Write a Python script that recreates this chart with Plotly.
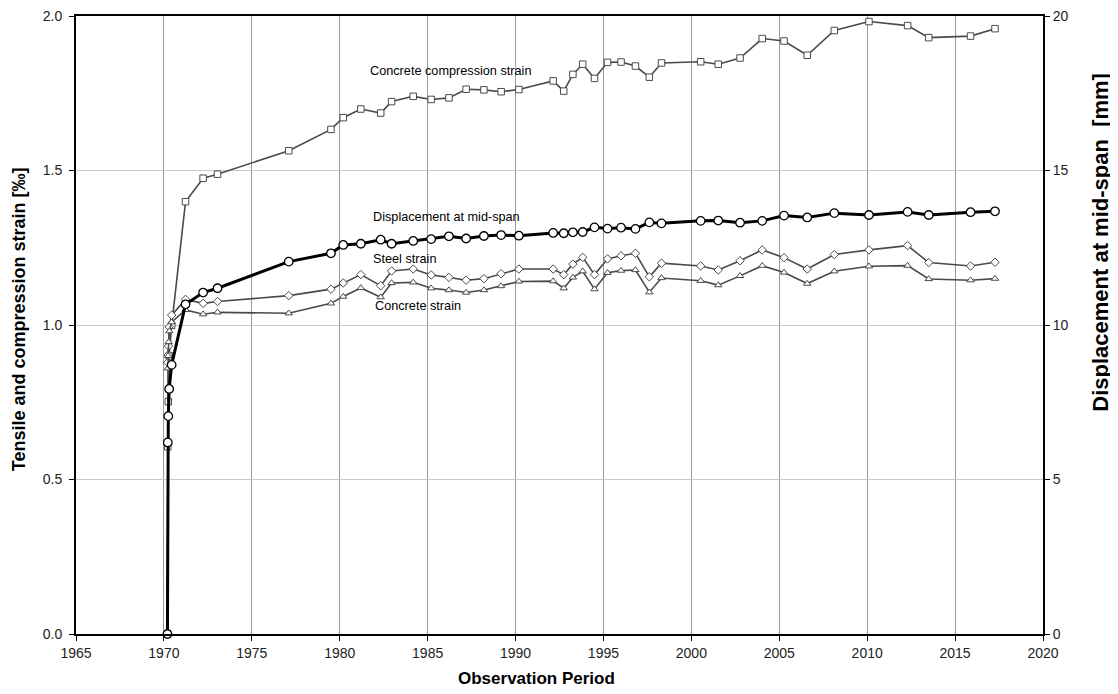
import plotly.graph_objects as go

# ---- data ----
years = [1971.23, 1972.23, 1973.05, 1977.10, 1979.50, 1980.20, 1981.20, 1982.33, 1982.95,
         1984.18, 1985.20, 1986.21, 1987.19, 1988.20, 1989.18, 1990.19, 1992.14, 1992.74,
         1993.26, 1993.82, 1994.49, 1995.23, 1996.00, 1996.82, 1997.61, 1998.30, 2000.53,
         2001.53, 2002.77, 2004.03, 2005.27, 2006.59, 2008.13, 2010.10, 2012.30, 2013.50,
         2015.88, 2017.27]

compr_early_x = [1970.20, 1970.22, 1970.25, 1970.30, 1970.44]
compr_early_y = [0.0, 0.606, 0.752, 0.900, 0.999]
compr_strain = [1.399, 1.475, 1.488, 1.564, 1.633, 1.671, 1.699, 1.686, 1.723,
                1.740, 1.730, 1.735, 1.763, 1.761, 1.755, 1.762, 1.790, 1.757,
                1.811, 1.844, 1.798, 1.850, 1.851, 1.838, 1.802, 1.848, 1.852,
                1.844, 1.864, 1.927, 1.919, 1.873, 1.953, 1.982, 1.969, 1.930,
                1.935, 1.959]

steel_early_x = [1970.20, 1970.22, 1970.24, 1970.26, 1970.30, 1970.44]
steel_early_y = [0.0, 0.879, 0.903, 0.932, 0.994, 1.032]
steel_strain = [1.083, 1.070, 1.076, 1.095, 1.116, 1.136, 1.163, 1.127, 1.175,
                1.181, 1.162, 1.154, 1.145, 1.150, 1.166, 1.181, 1.181, 1.163,
                1.197, 1.219, 1.163, 1.214, 1.224, 1.232, 1.156, 1.200, 1.191,
                1.178, 1.208, 1.243, 1.218, 1.181, 1.228, 1.243, 1.257, 1.202,
                1.191, 1.203]

conc_early_x = [1970.20, 1970.22, 1970.24, 1970.27, 1970.31, 1970.44]
conc_early_y = [0.0, 0.860, 0.900, 0.945, 0.980, 1.009]
conc_strain = [1.049, 1.035, 1.041, 1.038, 1.070, 1.092, 1.120, 1.090, 1.136,
               1.138, 1.119, 1.113, 1.105, 1.113, 1.126, 1.141, 1.142, 1.119,
               1.154, 1.174, 1.116, 1.169, 1.176, 1.178, 1.106, 1.152, 1.143,
               1.129, 1.159, 1.192, 1.170, 1.134, 1.174, 1.190, 1.192, 1.149,
               1.145, 1.150]

disp_early_x = [1970.20, 1970.22, 1970.25, 1970.30, 1970.44]
disp_early_y = [0.0, 6.20, 7.05, 7.93, 8.71]
displacement = [10.67, 11.05, 11.19, 12.05, 12.32, 12.59, 12.63, 12.76, 12.63,
                12.72, 12.78, 12.87, 12.80, 12.88, 12.91, 12.89, 12.98, 12.97,
                13.00, 13.01, 13.16, 13.12, 13.15, 13.11, 13.32, 13.29, 13.37,
                13.38, 13.31, 13.37, 13.54, 13.48, 13.62, 13.56, 13.66, 13.56,
                13.65, 13.68]

x_ticks = list(range(1965, 2021, 5))
left_ticks = [0.0, 0.5, 1.0, 1.5, 2.0]
right_ticks = [0, 5, 10, 15, 20]

labels = [("Concrete compression strain", 1981.60, 1.823),
          ("Displacement at mid-span", 1981.80, 1.349),
          ("Steel strain", 1981.80, 1.213),
          ("Concrete strain", 1981.88, 1.0625)]

x_title = "Observation Period"
left_title = "Tensile and compression strain [‰]"
right_title = "Displacement at mid-span  [mm]"

FONT = "Arial, Liberation Sans, sans-serif"
GRAYLINE = "#4a4a4a"

fig = go.Figure()

def strain_trace(xs, ys, symbol, size, name):
    return go.Scatter(
        x=xs, y=ys, mode="lines+markers", name=name,
        line=dict(color=GRAYLINE, width=1.6),
        marker=dict(symbol=symbol, size=size, color="white",
                    line=dict(color=GRAYLINE, width=1)),
        cliponaxis=False, showlegend=False)

fig.add_trace(strain_trace(compr_early_x + years, compr_early_y + compr_strain,
                           "square", 6.5, "Concrete compression strain"))
fig.add_trace(strain_trace(steel_early_x + years, steel_early_y + steel_strain,
                           "diamond", 6.5, "Steel strain"))
fig.add_trace(strain_trace(conc_early_x + years, conc_early_y + conc_strain,
                           "triangle-up", 6.5, "Concrete strain"))

fig.add_trace(go.Scatter(
    x=disp_early_x + years, y=disp_early_y + displacement, yaxis="y2",
    mode="lines+markers", name="Displacement at mid-span",
    line=dict(color="black", width=3),
    marker=dict(symbol="circle", size=8.5, color="white",
                line=dict(color="black", width=1.3)),
    cliponaxis=False, showlegend=False))

for text, xv, yv in labels:
    fig.add_annotation(text=text, x=xv, y=yv, xref="x", yref="y",
                       xanchor="left", yanchor="middle", showarrow=False,
                       font=dict(family=FONT, size=12.7, color="black"))

# axis titles (placed as text in paper coordinates)
fig.add_annotation(text="<b>%s</b>" % x_title, xref="paper", yref="paper",
                   x=0.4757, y=-0.0712, xanchor="center", yanchor="middle",
                   showarrow=False, font=dict(family=FONT, size=17, color="black"))
fig.add_annotation(text="<b>%s</b>" % left_title, xref="paper", yref="paper",
                   x=-0.0589, y=0.5095, xanchor="center", yanchor="middle",
                   textangle=-90, showarrow=False,
                   font=dict(family=FONT, size=18, color="black"))
fig.add_annotation(text="<b>%s</b>" % right_title, xref="paper", yref="paper",
                   x=1.0595, y=0.634, xanchor="center", yanchor="middle",
                   textangle=-90, showarrow=False,
                   font=dict(family=FONT, size=22, color="black"))

# the page adds an 8px body margin, so the figure is 8px smaller and margins shifted
fig.update_layout(
    width=1110, height=686,
    margin=dict(l=68, r=75, t=8, b=60, autoexpand=False),
    paper_bgcolor="white", plot_bgcolor="white",
    font=dict(family=FONT, size=14, color="black"),
    xaxis=dict(
        range=[1965, 2020], tickvals=x_ticks, ticks="outside", ticklen=5,
        tickwidth=1, tickcolor="black", automargin=False,
        ticklabeloverflow="allow",
        showline=True, linecolor="black", linewidth=1.5, mirror=True,
        showgrid=True, gridcolor="#9a9a9a", gridwidth=1, zeroline=False,
        tickfont=dict(family=FONT, size=14, color="#222")),
    yaxis=dict(
        range=[0, 2], tickvals=left_ticks, tickformat=".1f", automargin=False,
        ticks="outside", ticklen=5, tickwidth=1, tickcolor="black",
        ticklabelstandoff=4, ticklabeloverflow="allow",
        showline=True, linecolor="black", linewidth=2,
        showgrid=True, gridcolor="#c8c8c8", gridwidth=1, zeroline=False,
        tickfont=dict(family=FONT, size=14, color="#222")),
    yaxis2=dict(
        range=[0, 20], tickvals=right_ticks, overlaying="y", side="right",
        automargin=False, ticklabeloverflow="allow",
        ticks="outside", ticklen=5, tickwidth=1, tickcolor="black",
        showline=True, linecolor="black", linewidth=2,
        showgrid=False, zeroline=False,
        tickfont=dict(family=FONT, size=14, color="#222")),
)

fig.write_html("out.html")
